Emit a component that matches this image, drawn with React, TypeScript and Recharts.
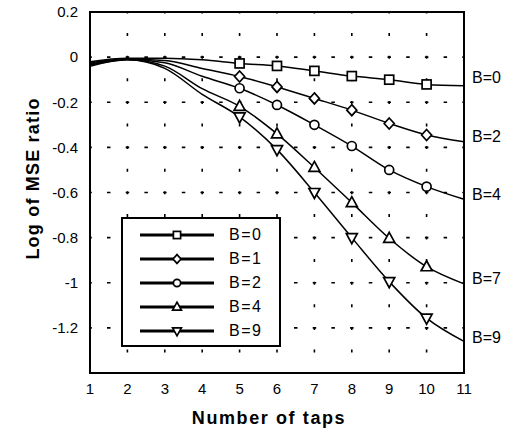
import React from "react"
import {
  LineChart,
  Line,
  XAxis,
  YAxis,
  CartesianGrid,
  Legend,
  ReferenceArea,
  ReferenceDot,
} from "recharts"

// number of taps (x axis)
const taps = [1, 2, 3, 4, 5, 6, 7, 8, 9, 10, 11]

// log of MSE ratio
const b0 = [-0.02, -0.005, -0.005, -0.012, -0.028, -0.039, -0.061, -0.084, -0.1, -0.121, -0.127]
const b1 = [-0.025, -0.008, -0.015, -0.05, -0.086, -0.132, -0.183, -0.235, -0.294, -0.345, -0.375]
const b2 = [-0.03, -0.01, -0.025, -0.085, -0.138, -0.212, -0.3, -0.394, -0.5, -0.574, -0.63]
const b4 = [-0.035, -0.01, -0.04, -0.14, -0.218, -0.34, -0.489, -0.645, -0.803, -0.929, -1.005]
const b9 = [-0.04, -0.012, -0.05, -0.165, -0.265, -0.41, -0.6, -0.8, -0.995, -1.157, -1.26]

const seriesNames = ["B=0", "B=1", "B=2", "B=4", "B=9"]
const markerTaps = [5, 6, 7, 8, 9, 10]

const xTicks = [1, 2, 3, 4, 5, 6, 7, 8, 9, 10, 11]
const yTicks = [0.2, 0, -0.2, -0.4, -0.6, -0.8, -1, -1.2]

// labels at the right edge of the plot
const endLabels = ["B=0", "B=2", "B=4", "B=7", "B=9"]
const endLabelValues = [-0.09, -0.35, -0.61, -0.98, -1.24]

const data = taps.map((t, i) => ({
  taps: t,
  b0: b0[i],
  b1: b1[i],
  b2: b2[i],
  b4: b4[i],
  b9: b9[i],
}))

const FONT = "'Liberation Sans', Arial, sans-serif"

type Shape = "square" | "diamond" | "circle" | "up" | "down"

const series: { key: string; shape: Shape }[] = [
  { key: "b0", shape: "square" },
  { key: "b1", shape: "diamond" },
  { key: "b2", shape: "circle" },
  { key: "b4", shape: "up" },
  { key: "b9", shape: "down" },
]

function Marker({ shape, cx, cy, s = 1 }: { shape: Shape; cx: number; cy: number; s?: number }) {
  const common = { fill: "#fff", stroke: "#000", strokeWidth: 1.7 }
  if (shape === "square") return <rect x={cx - 4.5 * s} y={cy - 4.5 * s} width={9 * s} height={9 * s} {...common} />
  if (shape === "circle") return <circle cx={cx} cy={cy} r={4.5 * s} {...common} />
  if (shape === "diamond")
    return <polygon points={`${cx},${cy - 5.5 * s} ${cx + 5 * s},${cy} ${cx},${cy + 5.5 * s} ${cx - 5 * s},${cy}`} {...common} />
  if (shape === "up")
    return <polygon points={`${cx},${cy - 6 * s} ${cx + 5.5 * s},${cy + 4 * s} ${cx - 5.5 * s},${cy + 4 * s}`} {...common} />
  return <polygon points={`${cx - 5.5 * s},${cy - 4 * s} ${cx + 5.5 * s},${cy - 4 * s} ${cx},${cy + 6 * s}`} {...common} />
}

function makeDot(shape: Shape) {
  return (props: any) => {
    const { cx, cy, payload, index } = props
    if (!markerTaps.includes(payload.taps)) return <g key={`d-${shape}-${index}`} />
    return (
      <g key={`d-${shape}-${index}`}>
        <Marker shape={shape} cx={cx} cy={cy} />
      </g>
    )
  }
}

function renderLegend() {
  return (
    <div
      style={{
        border: "2px solid #000",
        background: "#fff",
        boxSizing: "border-box",
        width: 160,
        height: 130,
        paddingTop: 4,
      }}
    >
      {series.map((s, i) => (
        <div key={s.key} style={{ display: "flex", alignItems: "center", height: 24 }}>
          <svg width={100} height={20} style={{ marginLeft: 10 }}>
            <line x1={7} y1={10} x2={81} y2={10} stroke="#000" strokeWidth={3} />
            <Marker shape={s.shape} cx={44} cy={10} s={0.8} />
          </svg>
          <span style={{ fontFamily: FONT, fontSize: 16, letterSpacing: 1.5, marginLeft: -4 }}>{seriesNames[i]}</span>
        </div>
      ))}
    </div>
  )
}

export default function App() {
  return (
    <div style={{ position: "absolute", left: 0, top: 0 }}>
      <LineChart width={514} height={436} data={data} margin={{ top: 12, right: 50, bottom: 0, left: 0 }}>
        <CartesianGrid horizontal={true} vertical={false} stroke="#000" strokeWidth={1.6} strokeDasharray="3.5 15.2" strokeDashoffset={1.7} />
        <CartesianGrid horizontal={false} vertical={true} stroke="#000" strokeWidth={1.6} strokeDasharray="3 19.6" strokeDashoffset={1.5} />
        <XAxis
          dataKey="taps"
          type="number"
          domain={[1, 11]}
          ticks={xTicks}
          axisLine={false}
          tickLine={false}
          tickSize={0}
          tickMargin={10}
          height={63}
          tick={{ fill: "#000", fontSize: 15, fontFamily: FONT }}
          label={{
            content: (p: any) => {
              const vb = p.viewBox
              const x = vb.x + vb.width / 2 - 8
              const y = vb.y + 45
              return (
                <text x={x} y={y} textAnchor="middle" dominantBaseline="central" fontFamily={FONT} fontSize={18} fontWeight="bold" letterSpacing={1.6} fill="#000">
                  Number of taps
                </text>
              )
            },
          }}
        />
        <YAxis
          type="number"
          domain={[-1.4, 0.2]}
          ticks={yTicks}
          allowDataOverflow
          axisLine={false}
          tickLine={false}
          tickSize={0}
          tickMargin={12}
          width={90}
          tick={{ fill: "#000", fontSize: 15, fontFamily: FONT }}
          label={{
            content: (p: any) => {
              const vb = p.viewBox
              const x = vb.x + 33
              const y = vb.y + vb.height / 2 - 14
              return (
                <text
                  x={x}
                  y={y}
                  transform={`rotate(-90 ${x} ${y})`}
                  textAnchor="middle"
                  dominantBaseline="central"
                  fontFamily={FONT}
                  fontSize={18}
                  fontWeight="bold"
                  letterSpacing={1.2}
                  fill="#000"
                >
                  Log of MSE ratio
                </text>
              )
            },
          }}
        />
        {series.map((s) => (
          <Line
            key={s.key}
            dataKey={s.key}
            type="monotone"
            stroke="#000"
            strokeWidth={1.5}
            dot={makeDot(s.shape)}
            activeDot={false}
            isAnimationActive={false}
            legendType="none"
          />
        ))}
        <ReferenceArea x1={1} x2={11} y1={-1.4} y2={0.2} fill="none" stroke="#000" strokeWidth={2} ifOverflow="visible" />
        {endLabels.map((l, i) => (
          <ReferenceDot
            key={l}
            x={11}
            y={endLabelValues[i]}
            r={0}
            fill="none"
            stroke="none"
            ifOverflow="visible"
            label={{ value: l, position: "right", offset: 8, fill: "#000", fontSize: 16, fontFamily: FONT }}
          />
        ))}
        <Legend
          layout="vertical"
          align="center"
          verticalAlign="middle"
          content={renderLegend}
          wrapperStyle={{ position: "absolute", left: 121, top: 217, width: 160, height: 130 }}
        />
      </LineChart>
    </div>
  )
}
